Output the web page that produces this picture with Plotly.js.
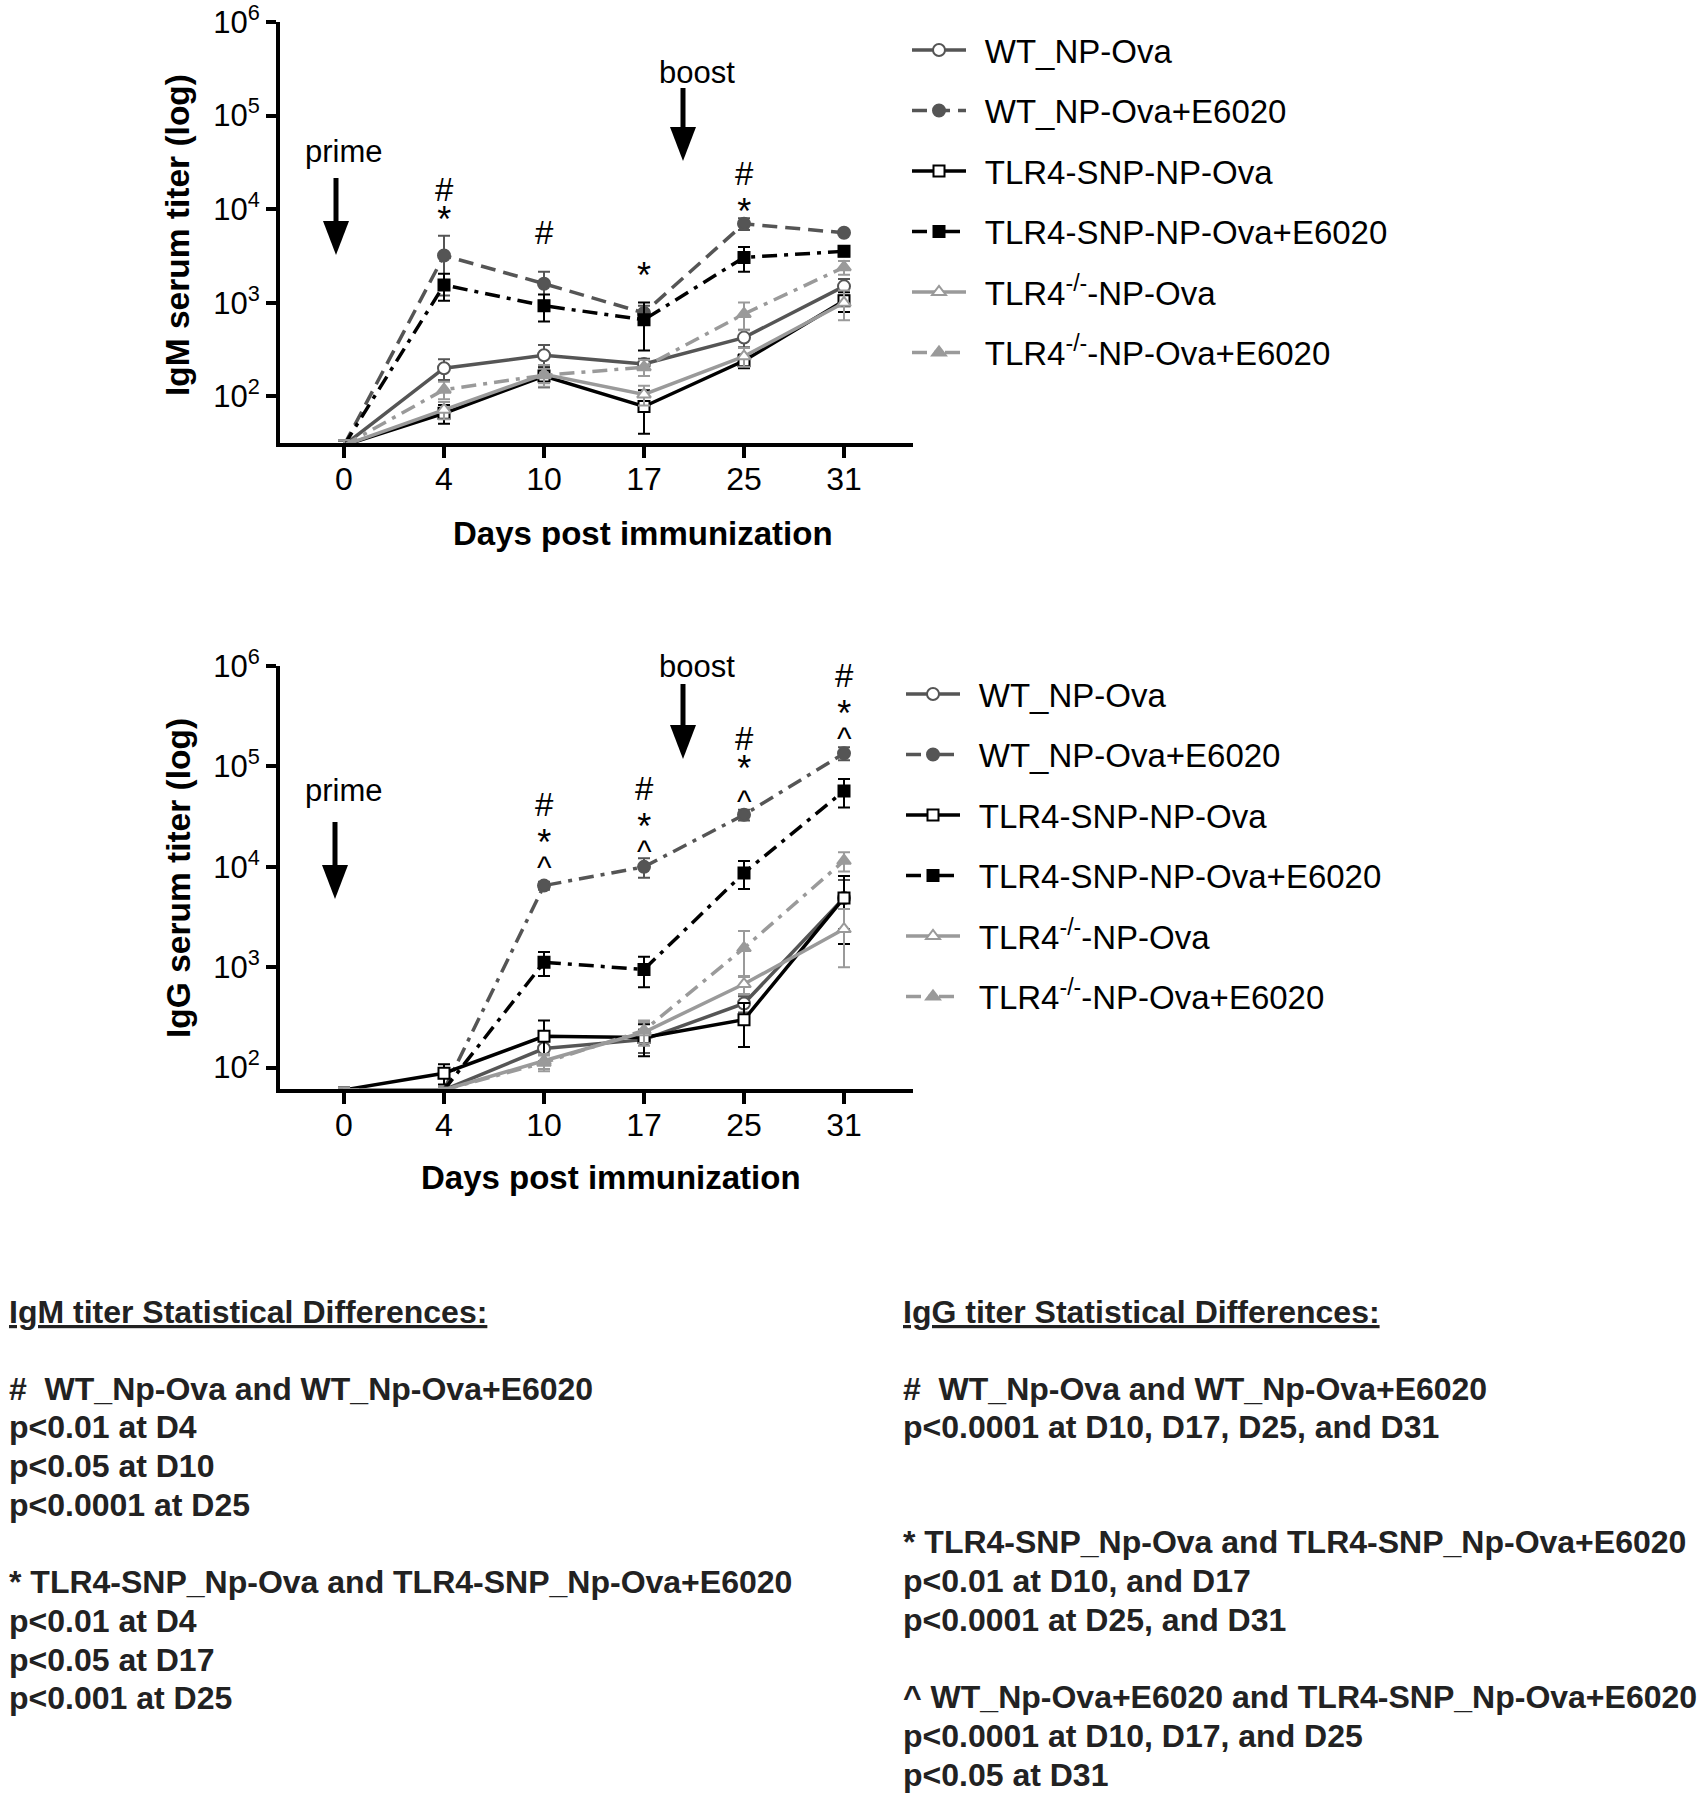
<!DOCTYPE html>
<html>
<head>
<meta charset="utf-8">
<script src="https://cdn.plot.ly/plotly-3.0.1.min.js"></script>
<style>
html,body{margin:0;padding:0;background:#ffffff;}
#chart{width:1707px;height:1800px;}
</style>
</head>
<body>
<div id="chart"></div>
<script>
// ---------- data ----------
const days = ['0', '4', '10', '17', '25', '31'];
const seriesNames = [
  'WT_NP-Ova',
  'WT_NP-Ova+E6020',
  'TLR4-SNP-NP-Ova',
  'TLR4-SNP-NP-Ova+E6020',
  'TLR4<sup>-/-</sup>-NP-Ova',
  'TLR4<sup>-/-</sup>-NP-Ova+E6020'
];

// IgM serum titer (means)
const igmWT      = [30, 200, 275, 222, 425, 1500];
const igmWTE     = [30, 3200, 1600, 780, 7000, 5600];
const igmSNP     = [30, 66, 165, 78, 240, 1050];
const igmSNPE    = [30, 1550, 930, 660, 3050, 3550];
const igmKO      = [30, 72, 172, 105, 268, 1000];
const igmKOE     = [30, 118, 168, 205, 760, 2400];
// IgM error (SEM)
const igmWTErr   = [4, 50, 80, 30, 90, 300];
const igmWTEErr  = [4, 2000, 550, 150, 1000, 300];
const igmSNPErr  = [4, 15, 40, 38, 40, 250];
const igmSNPEErr = [4, 500, 300, 350, 900, 400];
const igmKOErr   = [4, 15, 45, 25, 60, 350];
const igmKOEErr  = [4, 25, 30, 40, 250, 400];

// IgG serum titer (means)
const iggWT      = [60, 60, 155, 190, 435, 4900];
const iggWTE     = [60, 60, 6500, 10000, 33000, 135000];
const iggSNP     = [60, 88, 205, 200, 300, 4900];
const iggSNPE    = [60, 60, 1120, 950, 8700, 57000];
const iggKO      = [60, 60, 117, 225, 680, 2400];
const iggKOE     = [60, 60, 112, 235, 1550, 11500];
// IgG error (SEM)
const iggWTErr   = [3, 3, 40, 50, 80, 2500];
const iggWTEErr  = [3, 3, 600, 2200, 4000, 20000];
const iggSNPErr  = [3, 20, 90, 70, 140, 3200];
const iggSNPEErr = [3, 3, 300, 320, 2700, 18000];
const iggKOErr   = [3, 3, 20, 60, 140, 1400];
const iggKOEErr  = [3, 3, 20, 60, 750, 2500];

const yTickVals = [100, 1000, 10000, 100000, 1000000];
const yTickText = ['10<sup>2</sup>', '10<sup>3</sup>', '10<sup>4</sup>', '10<sup>5</sup>', '10<sup>6</sup>'];

// significance symbols stacked above each day
const igmMarkDays = ['4', '10', '17', '25'];
const igmMarkSyms = [['#', '*'], ['#'], ['*'], ['#', '*']];
const iggMarkDays = ['10', '17', '25', '31'];
const iggMarkSyms = [['#', '*', '^'], ['#', '*', '^'], ['#', '*', '^'], ['#', '*', '^']];

const igmStats = [
  'IgM titer Statistical Differences:',
  '#  WT_Np-Ova and WT_Np-Ova+E6020',
  'p<0.01 at D4',
  'p<0.05 at D10',
  'p<0.0001 at D25',
  '* TLR4-SNP_Np-Ova and TLR4-SNP_Np-Ova+E6020',
  'p<0.01 at D4',
  'p<0.05 at D17',
  'p<0.001 at D25'
];
const iggStats = [
  'IgG titer Statistical Differences:',
  '#  WT_Np-Ova and WT_Np-Ova+E6020',
  'p<0.0001 at D10, D17, D25, and D31',
  '* TLR4-SNP_Np-Ova and TLR4-SNP_Np-Ova+E6020',
  'p<0.01 at D10, and D17',
  'p<0.0001 at D25, and D31',
  '^ WT_Np-Ova+E6020 and TLR4-SNP_Np-Ova+E6020',
  'p<0.0001 at D10, D17, and D25',
  'p<0.05 at D31'
];

// ---------- geometry helpers ----------
const W = 1707, H = 1800;
const px = v => v / W;
const py = v => 1 - v / H;
const F = 'Liberation Sans, Arial, Helvetica, sans-serif';
const esc = s => s.replace(/&/g, '&amp;').replace(/</g, '&lt;').replace(/>/g, '&gt;');

// ---------- styles ----------
const DARK = '#555555', BLACK = '#000000', LIGHT = '#9a9a9a';
const DASH = '15px,8px';
const DASHDOT = '15px,7px,4px,7px';
const styles = [
  {color: DARK,  dash: 'solid', symbol: 'circle',      open: true},
  {color: DARK,  dash: DASH,    symbol: 'circle',      open: false},
  {color: BLACK, dash: 'solid', symbol: 'square',      open: true},
  {color: BLACK, dash: DASHDOT, symbol: 'square',      open: false},
  {color: LIGHT, dash: 'solid', symbol: 'triangle-up', open: true},
  {color: LIGHT, dash: DASHDOT, symbol: 'triangle-up', open: false}
];
const LEGEND_PAD = '\u2005\u2006';

function makeTraces(vals, errs, xa, ya, legendId, dashOverride) {
  return vals.map((v, i) => {
    const s = styles[i];
    const dash = (dashOverride && dashOverride[i]) || s.dash;
    return {
      type: 'scatter',
      mode: 'lines+markers',
      x: days,
      y: v,
      name: LEGEND_PAD + seriesNames[i],
      legend: legendId,
      legendgroup: legendId + '_' + i,
      xaxis: xa, yaxis: ya,
      cliponaxis: false,
      line: {color: s.color, width: 3.5, dash: dash},
      marker: {
        symbol: s.symbol,
        size: s.symbol === 'square' ? 11 : 12,
        color: s.open ? '#ffffff' : s.color,
        line: {color: s.color, width: 2}
      },
      error_y: {type: 'data', array: errs[i], visible: true, color: s.color, thickness: 2, width: 6}
    };
  });
}

const traces = []
  .concat(makeTraces([igmWT, igmWTE, igmSNP, igmSNPE, igmKO, igmKOE],
                     [igmWTErr, igmWTEErr, igmSNPErr, igmSNPEErr, igmKOErr, igmKOEErr],
                     'x', 'y', 'legend'))
  .concat(makeTraces([iggWT, iggWTE, iggSNP, iggSNPE, iggKO, iggKOE],
                     [iggWTErr, iggWTEErr, iggSNPErr, iggSNPEErr, iggKOErr, iggKOEErr],
                     'x2', 'y2', 'legend2', [null, DASHDOT]));

function xAxis(anchor) {
  return {
    type: 'category', domain: [px(280), px(913)], range: [-0.64, 5.69], anchor: anchor,
    showline: true, linewidth: 4, linecolor: '#000', showgrid: false, zeroline: false,
    ticks: 'outside', ticklen: 11, tickwidth: 4, tickcolor: '#000',
    ticklabelstandoff: -6, ticklabeloverflow: 'allow',
    tickfont: {family: F, size: 32, color: '#000'}, fixedrange: true
  };
}
function yAxis(anchor, dom, rng) {
  return {
    type: 'log', domain: dom, range: rng, anchor: anchor,
    showline: true, linewidth: 4, linecolor: '#000', showgrid: false, zeroline: false,
    ticks: 'outside', ticklen: 10, tickwidth: 4, tickcolor: '#000',
    tickvals: yTickVals, ticktext: yTickText, ticklabeloverflow: 'allow',
    tickfont: {family: F, size: 31, color: '#000'}, fixedrange: true
  };
}

function txt(text, x, y, size, extra) {
  return Object.assign({
    text: text, x: px(x), y: py(y), xref: 'paper', yref: 'paper',
    showarrow: false, xanchor: 'center', yanchor: 'middle',
    font: {family: F, size: size, color: '#000'}
  }, extra || {});
}

// stacked significance symbols: one text per day, symbols on spaced lines
const SYM = {'#': {f: 33, k: 0.35}, '*': {f: 36, k: 0.47}, '^': {f: 31, k: 0.50}};
const BASE = 6, LINE = 1.3 * BASE, ASC = 0.905;
function stack(syms, centers, xref, day) {
  const base = syms.map((s, i) => centers[i] + SYM[s].k * SYM[s].f);
  const idx = base.map(b => Math.round((b - base[0]) / LINE));
  const lines = new Array(idx[idx.length - 1] + 1).fill('');
  syms.forEach((s, i) => { lines[idx[i]] = '<span style="font-size:' + SYM[s].f + 'px">' + s + '</span>'; });
  const top = base[0] - ASC * SYM[syms[0]].f;
  return {
    text: lines.join('<br>'), x: days.indexOf(day), xref: xref, y: py(top), yref: 'paper',
    showarrow: false, xanchor: 'center', yanchor: 'top', align: 'center',
    borderpad: 0, borderwidth: 0,
    font: {family: F, size: BASE, color: '#000'}
  };
}
// glyph centres (pixels) for each stacked symbol
const igmMarkY = [[189, 215], [232], [271], [173, 203]];
const iggMarkY = [[804, 836, 860], [788, 820, 846], [738, 767, 793], [675, 708, 735]];

const annotations = [
  txt('<b>IgM serum titer (log)</b>', 178, 235, 33.5, {textangle: -90}),
  txt('<b>Days post immunization</b>', 643, 534, 33),
  txt('<b>IgG serum titer (log)</b>', 178, 878, 33.5, {textangle: -90}),
  txt('<b>Days post immunization</b>', 611, 1177, 33),
  txt('prime', 344, 152, 31),
  txt('boost', 697, 72, 31),
  txt('prime', 344, 790, 31),
  txt('boost', 697, 666, 31)
];
igmMarkDays.forEach((d, i) => annotations.push(stack(igmMarkSyms[i], igmMarkY[i], 'x', d)));
iggMarkDays.forEach((d, i) => annotations.push(stack(iggMarkSyms[i], iggMarkY[i], 'x2', d)));

const leftY  = [1312, 1389, 1427, 1466, 1505, 1582, 1621, 1660, 1698];
const rightY = [1312, 1389, 1427, 1542, 1581, 1620, 1697, 1736, 1775];
igmStats.forEach((t, i) => annotations.push(
  txt('<b>' + (i === 0 ? '<u>' + esc(t) + '</u>' : esc(t)) + '</b>', 7, leftY[i], 32,
      {xanchor: 'left', font: {family: F, size: 32, color: '#222'}})));
iggStats.forEach((t, i) => annotations.push(
  txt('<b>' + (i === 0 ? '<u>' + esc(t) + '</u>' : esc(t)) + '</b>', 901, rightY[i], 32,
      {xanchor: 'left', font: {family: F, size: 32, color: '#222'}})));

// arrows drawn as shapes: [x, yTail, yTip] in pixels
const arrowDefs = [[336, 178, 255], [683, 88, 161], [335, 822, 899], [683, 684, 759]];
const shapes = [];
arrowDefs.forEach(a => {
  const [x, y0, y1] = a;
  shapes.push({type: 'line', xref: 'paper', yref: 'paper',
               x0: px(x), x1: px(x), y0: py(y0), y1: py(y1 - 28),
               line: {color: '#000', width: 5}});
  shapes.push({type: 'path', xref: 'paper', yref: 'paper',
               path: 'M' + px(x - 13) + ',' + py(y1 - 34) + ' L' + px(x + 13) + ',' + py(y1 - 34) +
                     ' L' + px(x) + ',' + py(y1) + ' Z',
               fillcolor: '#000', line: {width: 0}});
});

const legendBase = {
  xanchor: 'left', yanchor: 'top',
  font: {family: F, size: 33, color: '#000'},
  bgcolor: 'rgba(0,0,0,0)', borderwidth: 0,
  traceorder: 'grouped', tracegroupgap: 14.6, itemwidth: 54
};

const layout = {
  width: W, height: H,
  margin: {l: 0, r: 0, t: 0, b: 0, pad: 0},
  paper_bgcolor: '#ffffff', plot_bgcolor: '#ffffff',
  font: {family: F, color: '#000'},
  showlegend: true,
  xaxis: xAxis('y'),
  yaxis: yAxis('x', [py(443), py(22)], [1.502, 6.0005]),
  xaxis2: xAxis('y2'),
  yaxis2: yAxis('x2', [py(1089), py(666)], [1.787, 6.0005]),
  legend: Object.assign({x: px(907), y: py(22)}, legendBase),
  legend2: Object.assign({x: px(901), y: py(666)}, legendBase),
  annotations: annotations,
  shapes: shapes
};

Plotly.newPlot('chart', traces, layout, {staticPlot: true, displayModeBar: false});
</script>
</body>
</html>
